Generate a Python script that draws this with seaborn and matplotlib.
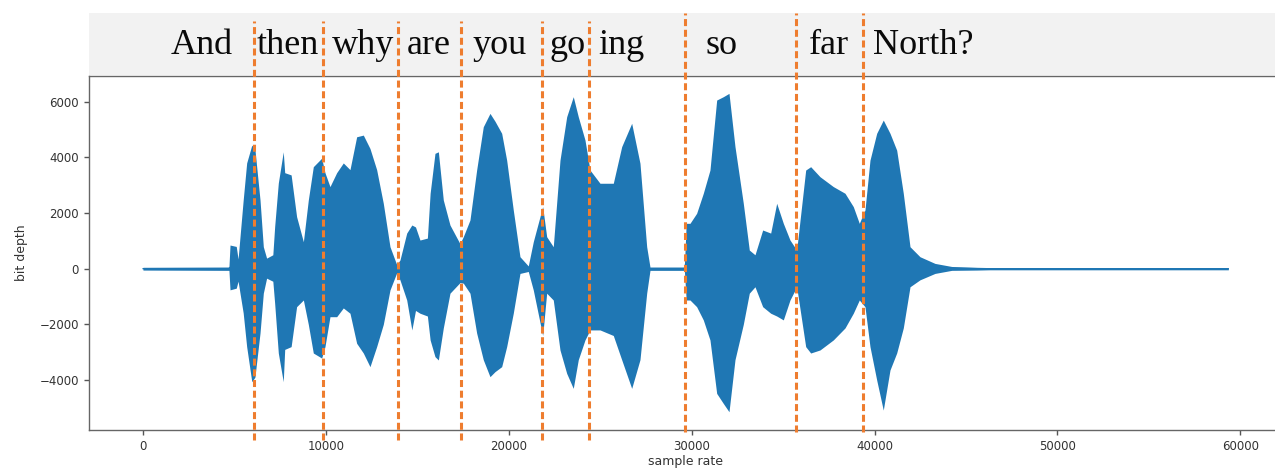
import numpy as np
import pandas as pd
import matplotlib
matplotlib.use("Agg")
import matplotlib.pyplot as plt
import seaborn as sns

# ---------------- data ----------------
# waveform envelope: sample index, positive peak, negative peak
env_x = [0, 4700, 4760, 5100, 5200, 5480, 5670, 5950, 6120, 6400, 6580, 6760,
         7100, 7200, 7400, 7670, 7750, 8100, 8400, 8770, 9040, 9313, 9770, 9950,
         10224, 10590, 10953, 11318, 11683, 12047, 12411, 12776, 13140, 13505,
         13870, 14050, 14420, 14700, 14900, 15145, 15550, 15700, 15965, 16150,
         16420, 16785, 17330, 17513, 17878, 18243, 18606, 18972, 19245, 19612,
         19885, 20246, 20612, 21066, 21340, 21853, 22072, 22433, 22800, 23166,
         23526, 23800, 24166, 24440, 24987, 25714, 26173, 26720, 27173, 27540,
         27720, 29600, 29700, 29907, 30270, 30635, 31000, 31367, 31728, 32040,
         32368, 32822, 33150, 33461, 33881, 34319, 34647, 35010, 35374, 35741,
         36233, 36506, 37015, 37742, 38382, 38836, 39164, 39475, 39748, 40115,
         40475, 40842, 41208, 41569, 41936, 42482, 43302, 44215, 45583, 46300,
         59340]
env_top = [50, 60, 850, 800, 350, 2470, 3800, 4440, 4300, 2470, 790, 380,
           500, 1510, 3080, 4200, 3450, 3370, 1870, 970, 2470, 3665, 3970, 3450,
           2950, 3450, 3800, 3560, 4740, 4800, 4320, 3560, 2350, 790,
           150, 310, 1280, 1570, 1500, 1030, 1100, 2710, 4145, 4200,
           2470, 1570, 900, 1150, 1750, 3545, 5100, 5580, 5300, 4865,
           3900, 2110, 430, 100, 970, 2230, 1150, 790, 3900, 5460,
           6180, 5460, 4625, 3545, 3070, 3070, 4385, 5225, 3790, 790,
           60, 60, 1630, 1630, 1990, 2710, 3545, 6060, 6180, 6300,
           4385, 2350, 670, 500, 1390, 1280, 2350, 1630, 1030, 670,
           3545, 3665, 3305, 2950, 2710, 2230, 1630, 2110, 3900, 4865,
           5340, 4865, 4260, 2710, 790, 430, 190, 80, 50, 40,
           40]
env_bot = [-50, -60, -760, -700, -450, -1590, -2800, -4060, -3900, -2310, -880, -340,
           -450, -1240, -3030, -4060, -2900, -2800, -1365, -1125, -2000, -3030, -3210, -2800,
           -1725, -1725, -1410, -1600, -2680, -3030, -3520, -2800, -2000, -765,
           -150, -400, -1125, -2200, -1500, -1600, -1700, -2560, -3160, -3280,
           -2130, -880, -500, -520, -880, -2310, -3270, -3880, -3700, -3520,
           -2800, -1600, -170, -100, -765, -2400, -880, -1125, -2920, -3760,
           -4300, -3270, -2560, -2200, -2200, -2400, -3270, -4300, -3270, -880,
           -60, -60, -1125, -1125, -1365, -1840, -2560, -4480, -4840, -5140,
           -3270, -2000, -880, -650, -1365, -1600, -1700, -1840, -1125, -650,
           -2800, -3030, -2920, -2560, -2130, -1600, -1125, -1365, -2800, -4000,
           -5080, -3640, -3030, -2130, -650, -400, -170, -60, -50, -40,
           -40]

# word segmentation
words = ["And", "then", "why", "are", "you", "go", "ing", "so", "far", "North?"]
word_centers = [3199, 7928, 12028, 15637, 19519, 23237, 26161, 31657, 37507, 42645]
boundaries = [6080, 9850, 13940, 17390, 21800, 24400, 29640, 35730, 39390]

x_ticks = [0, 10000, 20000, 30000, 40000, 50000, 60000]
y_ticks = [-4000, -2000, 0, 2000, 4000, 6000]
x_label = "sample rate"
y_label = "bit depth"

# ---------------- figure ----------------
sns.set_theme(style="ticks")
plt.rcParams["font.family"] = ["DejaVu Sans"]

W, H = 1275, 468
fig = plt.figure(figsize=(W / 100, H / 100), dpi=100)

ax_left = 88.7 / W
ax_width = (1282.6 - 88.7) / W
ax = fig.add_axes([ax_left, 38 / H, ax_width, (430 - 76) / H], zorder=2)
band = fig.add_axes([ax_left, (H - 75) / H, ax_width, (75 - 13.3) / H], zorder=1)

df = pd.DataFrame({
    "sample": np.concatenate([env_x, env_x]),
    "amp": np.concatenate([env_top, env_bot]),
})
blue = "#1f77b4"
sns.lineplot(data=df, x="sample", y="amp", estimator="mean",
             errorbar=("pi", 100), color=blue, linewidth=1.0,
             err_kws=dict(alpha=1, linewidth=0), ax=ax)

ax.set_xlim(-2967, 62307)
ax.set_ylim(-5796, 6924)
ax.set_xticks(x_ticks)
ax.set_yticks(y_ticks)
ax.set_xlabel(x_label, fontsize=9, color="#333333", labelpad=1.5)
ax.set_ylabel(y_label, fontsize=9, color="#333333", labelpad=8)
ax.tick_params(axis="both", labelsize=8.5, colors="#555555", labelcolor="#333333",
               length=3.5, width=1, direction="out")
for side in ["left", "bottom", "top", "right"]:
    ax.spines[side].set_visible(True)
    ax.spines[side].set_color("#666666")
    ax.spines[side].set_linewidth(1.0)

# boundary dashed lines (extents in pixels: bottom, top)
extents = [(440, 20.7)] * 6 + [(432, 13.3)] * 3
orange = "#EE7D2F"
ax_h = 430 - 76
for b, (pb, pt) in zip(boundaries, extents):
    ax.axvline(b, ymin=(430 - pb) / ax_h, ymax=(430 - pt) / ax_h,
               color=orange, linewidth=2.2, linestyle=(0, (2.3, 1.2)),
               clip_on=False, zorder=5)

# word band
band.set_facecolor("#f2f2f2")
band.set_xlim(ax.get_xlim())
band.set_ylim(0, 1)
band.set_xticks([])
band.set_yticks([])
for side in band.spines.values():
    side.set_visible(False)
for w, c in zip(words, word_centers):
    band.text(c, 0.335, w, transform=band.get_xaxis_transform(),
              ha="center", va="baseline", fontsize=26,
              family=["Liberation Serif", "DejaVu Serif"], color="#0a0a0a")

fig.savefig("out.png", dpi=100)
